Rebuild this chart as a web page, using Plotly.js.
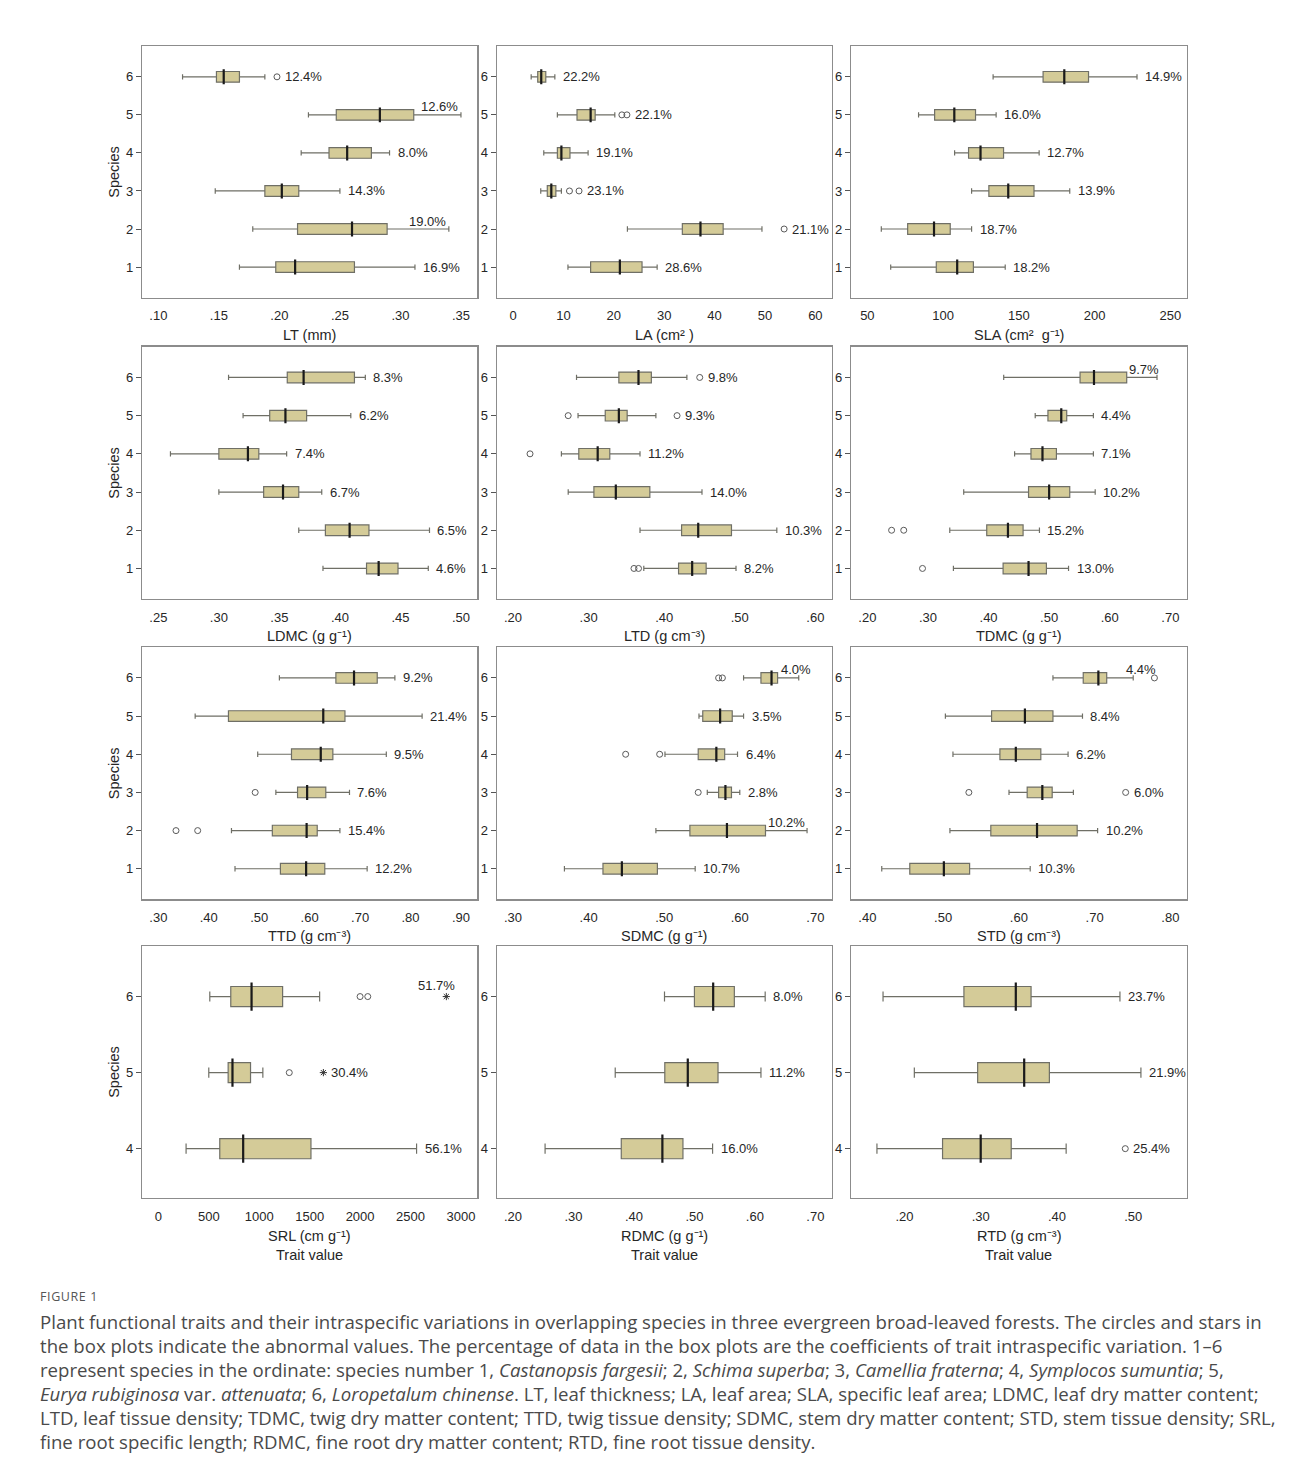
<!DOCTYPE html>
<html>
<head>
<meta charset="utf-8">
<script src="https://cdn.plot.ly/plotly-3.0.1.min.js"></script>
<style>
  html,body{margin:0;padding:0;background:#fff;}
  body{width:1290px;height:1474px;position:relative;overflow:hidden;}
  #topline{position:absolute;left:8px;right:0;top:8px;border-top:1px solid #cfcfcf;}
  #plot{position:absolute;left:0;top:0;width:1290px;height:1280px;}
  #cap{position:absolute;left:40px;top:0;font-family:'Open Sans','Noto Sans',sans-serif;color:#4a4a4a;}
  #cap .fig{position:absolute;left:0;top:1288px;font-size:12.5px;letter-spacing:0.6px;color:#555;white-space:nowrap;}
  #cap .ln{position:absolute;left:0;white-space:nowrap;font-size:16px;line-height:20px;}
</style>
</head>
<body>
<div id="topline"></div>
<div id="plot"></div>
<div id="cap"></div>
<script>
// ---------------- DATA ----------------
const species6 = [1, 2, 3, 4, 5, 6];
const species3 = [4, 5, 6];

// each row: [lower whisker, Q1, median, Q3, upper whisker], one row per species (in species order)
const LT_stats = [[.167,.197,.213,.262,.312],[.178,.215,.260,.289,.340],[.147,.188,.202,.216,.250],[.218,.241,.256,.276,.291],[.224,.247,.283,.311,.350],[.120,.148,.154,.167,.188]];
const LT_out = [[6,.198]];
const LT_cv = ['16.9%','19.0%','14.3%','8.0%','12.6%','12.4%'];
const LT_ticks = [.10,.15,.20,.25,.30,.35];

const LA_stats = [[10.9,15.4,21.2,25.6,28.6],[22.7,33.6,37.2,41.7,49.4],[5.5,6.8,7.6,8.5,9.6],[6.1,8.8,9.6,11.3,14.9],[8.8,12.7,15.4,16.3,20.2],[3.6,4.9,5.6,6.5,8.3]];
const LA_out = [[2,53.8],[3,11.2],[3,13.1],[5,21.6],[5,22.6]];
const LA_cv = ['28.6%','21.1%','23.1%','19.1%','22.1%','22.2%'];
const LA_ticks = [0,10,20,30,40,50,60];

const SLA_stats = [[65.4,95.5,109.3,120,141],[59.2,76.6,94,104.7,118.8],[118.8,130.2,143,160,183.6],[107.6,116.8,124.7,139.9,163.4],[83.8,94.4,107.4,121.4,135],[133,166,180,196,228]];
const SLA_out = [];
const SLA_cv = ['18.2%','18.7%','13.9%','12.7%','16.0%','14.9%'];
const SLA_ticks = [50,100,150,200,250];

const LDMC_stats = [[.386,.422,.432,.448,.473],[.366,.388,.408,.424,.474],[.300,.337,.353,.366,.385],[.260,.300,.324,.333,.356],[.320,.342,.355,.3725,.409],[.308,.3565,.370,.412,.421]];
const LDMC_out = [];
const LDMC_cv = ['4.6%','6.5%','6.7%','7.4%','6.2%','8.3%'];
const LDMC_ticks = [.25,.30,.35,.40,.45,.50];

const LTD_stats = [[.373,.419,.437,.4555,.495],[.368,.423,.445,.489,.549],[.273,.307,.336,.381,.450],[.264,.287,.312,.328,.368],[.286,.322,.340,.351,.389],[.284,.340,.366,.383,.430]];
const LTD_out = [[1,.360],[1,.366],[4,.2225],[5,.273],[5,.417],[6,.447]];
const LTD_cv = ['8.2%','10.3%','14.0%','11.2%','9.3%','9.8%'];
const LTD_ticks = [.20,.30,.40,.50,.60];

const TDMC_stats = [[.342,.424,.466,.4955,.532],[.336,.397,.432,.457,.484],[.359,.466,.500,.534,.576],[.443,.470,.489,.512,.573],[.477,.498,.520,.529,.573],[.425,.551,.574,.628,.678]];
const TDMC_out = [[1,.291],[2,.240],[2,.260]];
const TDMC_cv = ['13.0%','15.2%','10.2%','7.1%','4.4%','9.7%'];
const TDMC_ticks = [.20,.30,.40,.50,.60,.70];

const TTD_stats = [[.452,.542,.593,.630,.714],[.445,.526,.594,.615,.660],[.533,.576,.595,.632,.679],[.497,.564,.622,.646,.752],[.373,.439,.627,.670,.823],[.540,.652,.688,.734,.769]];
const TTD_out = [[2,.335],[2,.378],[3,.492]];
const TTD_cv = ['12.2%','15.4%','7.6%','9.5%','21.4%','9.2%'];
const TTD_ticks = [.30,.40,.50,.60,.70,.80,.90];

const SDMC_stats = [[.368,.419,.444,.491,.541],[.489,.534,.583,.634,.689],[.557,.572,.581,.589,.600],[.501,.545,.569,.580,.597],[.546,.551,.574,.590,.605],[.605,.628,.642,.650,.678]];
const SDMC_out = [[3,.545],[4,.449],[4,.494],[6,.572],[6,.577]];
const SDMC_cv = ['10.7%','10.2%','2.8%','6.4%','3.5%','4.0%'];
const SDMC_ticks = [.30,.40,.50,.60,.70];

const STD_stats = [[.419,.456,.501,.535,.615],[.509,.563,.624,.677,.704],[.587,.611,.631,.644,.672],[.513,.575,.596,.629,.665],[.503,.564,.608,.645,.684],[.645,.685,.705,.716,.751]];
const STD_out = [[3,.534],[3,.741],[6,.779]];
const STD_cv = ['10.3%','10.2%','6.0%','6.2%','8.4%','4.4%'];
const STD_ticks = [.40,.50,.60,.70,.80];

const SRL_stats = [[275,609,841,1513,2560],[500,692,735,914,1036],[510,718,924,1232,1599]];
const SRL_out = [[5,1298],[6,2000],[6,2076]];
const SRL_ext = [[5,1636],[6,2855]];
const SRL_cv = ['56.1%','30.4%','51.7%'];
const SRL_ticks = [0,500,1000,1500,2000,2500,3000];

const RDMC_stats = [[.253,.379,.447,.481,.530],[.369,.451,.489,.539,.610],[.4505,.500,.531,.566,.617]];
const RDMC_out = [];
const RDMC_cv = ['16.0%','11.2%','8.0%'];
const RDMC_ticks = [.20,.30,.40,.50,.60,.70];

const RTD_stats = [[.164,.250,.300,.340,.412],[.213,.296,.357,.390,.510],[.172,.278,.346,.366,.4825]];
const RTD_out = [[4,.4895]];
const RTD_cv = ['25.4%','21.9%','23.7%'];
const RTD_ticks = [.20,.30,.40,.50];

const axisTitles = ['LT (mm)','LA (cm\u00b2 )','SLA (cm\u00b2  g\u207b\u00b9)','LDMC (g g\u207b\u00b9)','LTD (g cm\u207b\u00b3)','TDMC (g g\u207b\u00b9)',
  'TTD (g cm\u207b\u00b3)','SDMC (g g\u207b\u00b9)','STD (g cm\u207b\u00b3)','SRL (cm g\u207b\u00b9)','RDMC (g g\u207b\u00b9)','RTD (g cm\u207b\u00b3)'];

// ---------------- LAYOUT / STYLE ----------------
const W = 1290, H = 1280;
const colPx = [[142,477.3],[496.7,831.7],[851,1186.7]];
const rowPx = [[46,297.5],[346.5,599],[647,899.3],[946,1197.7]];
const titleY = [335,635.5,936,1236];
const FONT = 'Liberation Sans, Arial, sans-serif';
const TXT = '#262626';
const BOXFILL = '#d4cb98', BOXLINE = '#6f6f66', FRAME = '#8c8c8c';
// labels placed above-right of the row instead of to the right: {species: horizontal pixel shift}
const aboveLabels = {LT:{5:-1, 2:-1}, TDMC:{6:4}, SDMC:{6:14, 2:0}, STD:{6:4}, SRL:{6:11}};
const rangeOverride = {RTD:[.13,.57]};

const panels = [
  {name:'LT', stats:LT_stats, sp:species6, out:LT_out, ext:[], cv:LT_cv, ticks:LT_ticks},
  {name:'LA', stats:LA_stats, sp:species6, out:LA_out, ext:[], cv:LA_cv, ticks:LA_ticks},
  {name:'SLA', stats:SLA_stats, sp:species6, out:SLA_out, ext:[], cv:SLA_cv, ticks:SLA_ticks},
  {name:'LDMC', stats:LDMC_stats, sp:species6, out:LDMC_out, ext:[], cv:LDMC_cv, ticks:LDMC_ticks},
  {name:'LTD', stats:LTD_stats, sp:species6, out:LTD_out, ext:[], cv:LTD_cv, ticks:LTD_ticks},
  {name:'TDMC', stats:TDMC_stats, sp:species6, out:TDMC_out, ext:[], cv:TDMC_cv, ticks:TDMC_ticks},
  {name:'TTD', stats:TTD_stats, sp:species6, out:TTD_out, ext:[], cv:TTD_cv, ticks:TTD_ticks},
  {name:'SDMC', stats:SDMC_stats, sp:species6, out:SDMC_out, ext:[], cv:SDMC_cv, ticks:SDMC_ticks},
  {name:'STD', stats:STD_stats, sp:species6, out:STD_out, ext:[], cv:STD_cv, ticks:STD_ticks},
  {name:'SRL', stats:SRL_stats, sp:species3, out:SRL_out, ext:SRL_ext, cv:SRL_cv, ticks:SRL_ticks},
  {name:'RDMC', stats:RDMC_stats, sp:species3, out:RDMC_out, ext:[], cv:RDMC_cv, ticks:RDMC_ticks},
  {name:'RTD', stats:RTD_stats, sp:species3, out:RTD_out, ext:[], cv:RTD_cv, ticks:RTD_ticks}
];

function fmtTick(v){
  if (v !== 0 && Math.abs(v) < 1) return v.toFixed(2).replace(/^0/, '');
  return String(v);
}

const traces = [];
const layout = {
  width: W, height: H, margin:{l:0,r:0,t:0,b:0},
  paper_bgcolor:'#fff', plot_bgcolor:'#fff', showlegend:false,
  font:{family:FONT, size:13, color:TXT},
  annotations: []
};

panels.forEach((p, i) => {
  const row = Math.floor(i/3), col = i%3;
  const sfx = i === 0 ? '' : String(i+1);
  const xa = 'x'+sfx, ya = 'y'+sfx;
  const is3 = p.sp.length === 3;
  const boxW = is3 ? 0.265 : 0.28;
  const yr = is3 ? [3.355, 6.665] : [0.2, 6.81];
  const pxPerUnit = (rowPx[row][1]-rowPx[row][0])/(yr[1]-yr[0]);
  const a = p.ticks[0], b = p.ticks[p.ticks.length-1];
  const xr = rangeOverride[p.name] || [a-0.054*(b-a), b+0.054*(b-a)];

  layout['xaxis'+sfx] = {
    domain:[colPx[col][0]/W, colPx[col][1]/W], anchor: ya, range: xr,
    tickmode:'array', tickvals:p.ticks, ticktext:p.ticks.map(fmtTick),
    showline:true, mirror:true, linecolor:FRAME, linewidth:1.2,
    showgrid:false, zeroline:false, ticks:'', ticklabelstandoff:6,
    tickfont:{family:FONT,size:13,color:TXT}, fixedrange:true
  };
  layout['yaxis'+sfx] = {
    domain:[1-rowPx[row][1]/H, 1-rowPx[row][0]/H], anchor: xa, range: yr,
    tickmode:'array', tickvals:p.sp, ticktext:p.sp.map(String),
    showline:true, mirror:true, linecolor:FRAME, linewidth:1.2,
    showgrid:false, zeroline:false, ticks:'outside', ticklen:5, tickcolor:'#555', tickwidth:1,
    tickfont:{family:FONT,size:13,color:TXT}, fixedrange:true
  };

  // boxes
  traces.push({
    type:'box', orientation:'h', xaxis:xa, yaxis:ya,
    y:p.sp,
    lowerfence:p.stats.map(s=>s[0]), q1:p.stats.map(s=>s[1]), median:p.stats.map(s=>s[2]),
    q3:p.stats.map(s=>s[3]), upperfence:p.stats.map(s=>s[4]),
    width:boxW, whiskerwidth:0.5, boxpoints:false,
    fillcolor:BOXFILL, line:{color:BOXLINE, width:1.2}, hoverinfo:'skip'
  });
  // thick median lines
  traces.push({
    type:'scatter', mode:'markers', xaxis:xa, yaxis:ya,
    x:p.stats.map(s=>s[2]), y:p.sp,
    marker:{symbol:'line-ns', size:boxW*pxPerUnit, line:{color:'#1a1a1a', width:2.2}},
    hoverinfo:'skip'
  });
  // outliers
  if (p.out.length) traces.push({
    type:'scatter', mode:'markers', xaxis:xa, yaxis:ya,
    x:p.out.map(o=>o[1]), y:p.out.map(o=>o[0]),
    marker:{symbol:'circle-open', size:6, color:'#5a5a5a', line:{width:1}},
    hoverinfo:'skip'
  });
  // extremes (stars)
  if (p.ext.length) traces.push({
    type:'scatter', mode:'markers', xaxis:xa, yaxis:ya,
    x:p.ext.map(o=>o[1]), y:p.ext.map(o=>o[0]),
    marker:{symbol:'asterisk-open', size:6, color:'#333', line:{width:1}},
    hoverinfo:'skip'
  });

  // CV labels
  const above = aboveLabels[p.name] || {};
  p.sp.forEach((s, k) => {
    let mx = p.stats[k][4];
    p.out.concat(p.ext).forEach(o => { if (o[0] === s && o[1] > mx) mx = o[1]; });
    const isAbove = Object.prototype.hasOwnProperty.call(above, s);
    layout.annotations.push({
      xref:xa, yref:ya, x:mx, y:s, text:p.cv[k], showarrow:false,
      xanchor: isAbove ? 'right' : 'left', yanchor:'middle',
      xshift: isAbove ? above[s] : 6, yshift: isAbove ? (is3 ? 11 : 8) : 0,
      font:{family:FONT, size:13, color:TXT}
    });
  });

  // x-axis titles
  layout.annotations.push({
    xref:'paper', yref:'paper', x:(colPx[col][0]+colPx[col][1])/2/W, y:1-titleY[row]/H,
    text:axisTitles[i], showarrow:false, xanchor:'center', yanchor:'middle',
    font:{family:FONT, size:14.5, color:TXT}
  });
  if (row === 3) layout.annotations.push({
    xref:'paper', yref:'paper', x:(colPx[col][0]+colPx[col][1])/2/W, y:1-1255/H,
    text:'Trait value', showarrow:false, xanchor:'center', yanchor:'middle',
    font:{family:FONT, size:14.5, color:TXT}
  });
  if (col === 0) layout.annotations.push({
    xref:'paper', yref:'paper', x:114/W, y:1-(rowPx[row][0]+rowPx[row][1])/2/H,
    text:'Species', showarrow:false, textangle:-90, xanchor:'center', yanchor:'middle',
    font:{family:FONT, size:14.5, color:TXT}
  });
});

Plotly.newPlot('plot', traces, layout, {displayModeBar:false, staticPlot:true}).then(gd => {
  // drop empty placeholder text nodes (unused axis titles)
  gd.querySelectorAll('svg text').forEach(t => {
    if (t.textContent.replace(/[\s\u200b]/g, '') === '') t.remove();
  });
});

// ---------------- CAPTION ----------------
const captionLines = [
  'Plant functional traits and their intraspecific variations in overlapping species in three evergreen broad-leaved forests. The circles and stars in',
  'the box plots indicate the abnormal values. The percentage of data in the box plots are the coefficients of trait intraspecific variation. 1\u20136',
  'represent species in the ordinate: species number 1, <i>Castanopsis fargesii</i>; 2, <i>Schima superba</i>; 3, <i>Camellia fraterna</i>; 4, <i>Symplocos sumuntia</i>; 5,',
  '<i>Eurya rubiginosa</i> var. <i>attenuata</i>; 6, <i>Loropetalum chinense</i>. LT, leaf thickness; LA, leaf area; SLA, specific leaf area; LDMC, leaf dry matter content;',
  'LTD, leaf tissue density; TDMC, twig dry matter content; TTD, twig tissue density; SDMC, stem dry matter content; STD, stem tissue density; SRL,',
  'fine root specific length; RDMC, fine root dry matter content; RTD, fine root tissue density.'
];
const cap = document.getElementById('cap');
const fig = document.createElement('div');
fig.className = 'fig'; fig.textContent = 'FIGURE 1';
cap.appendChild(fig);
const lineEls = captionLines.map((t, k) => {
  const d = document.createElement('div');
  d.className = 'ln'; d.innerHTML = t;
  d.style.top = (1312 + 24*k) + 'px';
  cap.appendChild(d);
  return d;
});
// fit font size so the first line spans the same width as the reference
const w0 = lineEls[0].getBoundingClientRect().width;
const fs = 16 * 1222 / w0;
lineEls.forEach(d => { d.style.fontSize = fs.toFixed(2) + 'px'; });
</script>
</body>
</html>
